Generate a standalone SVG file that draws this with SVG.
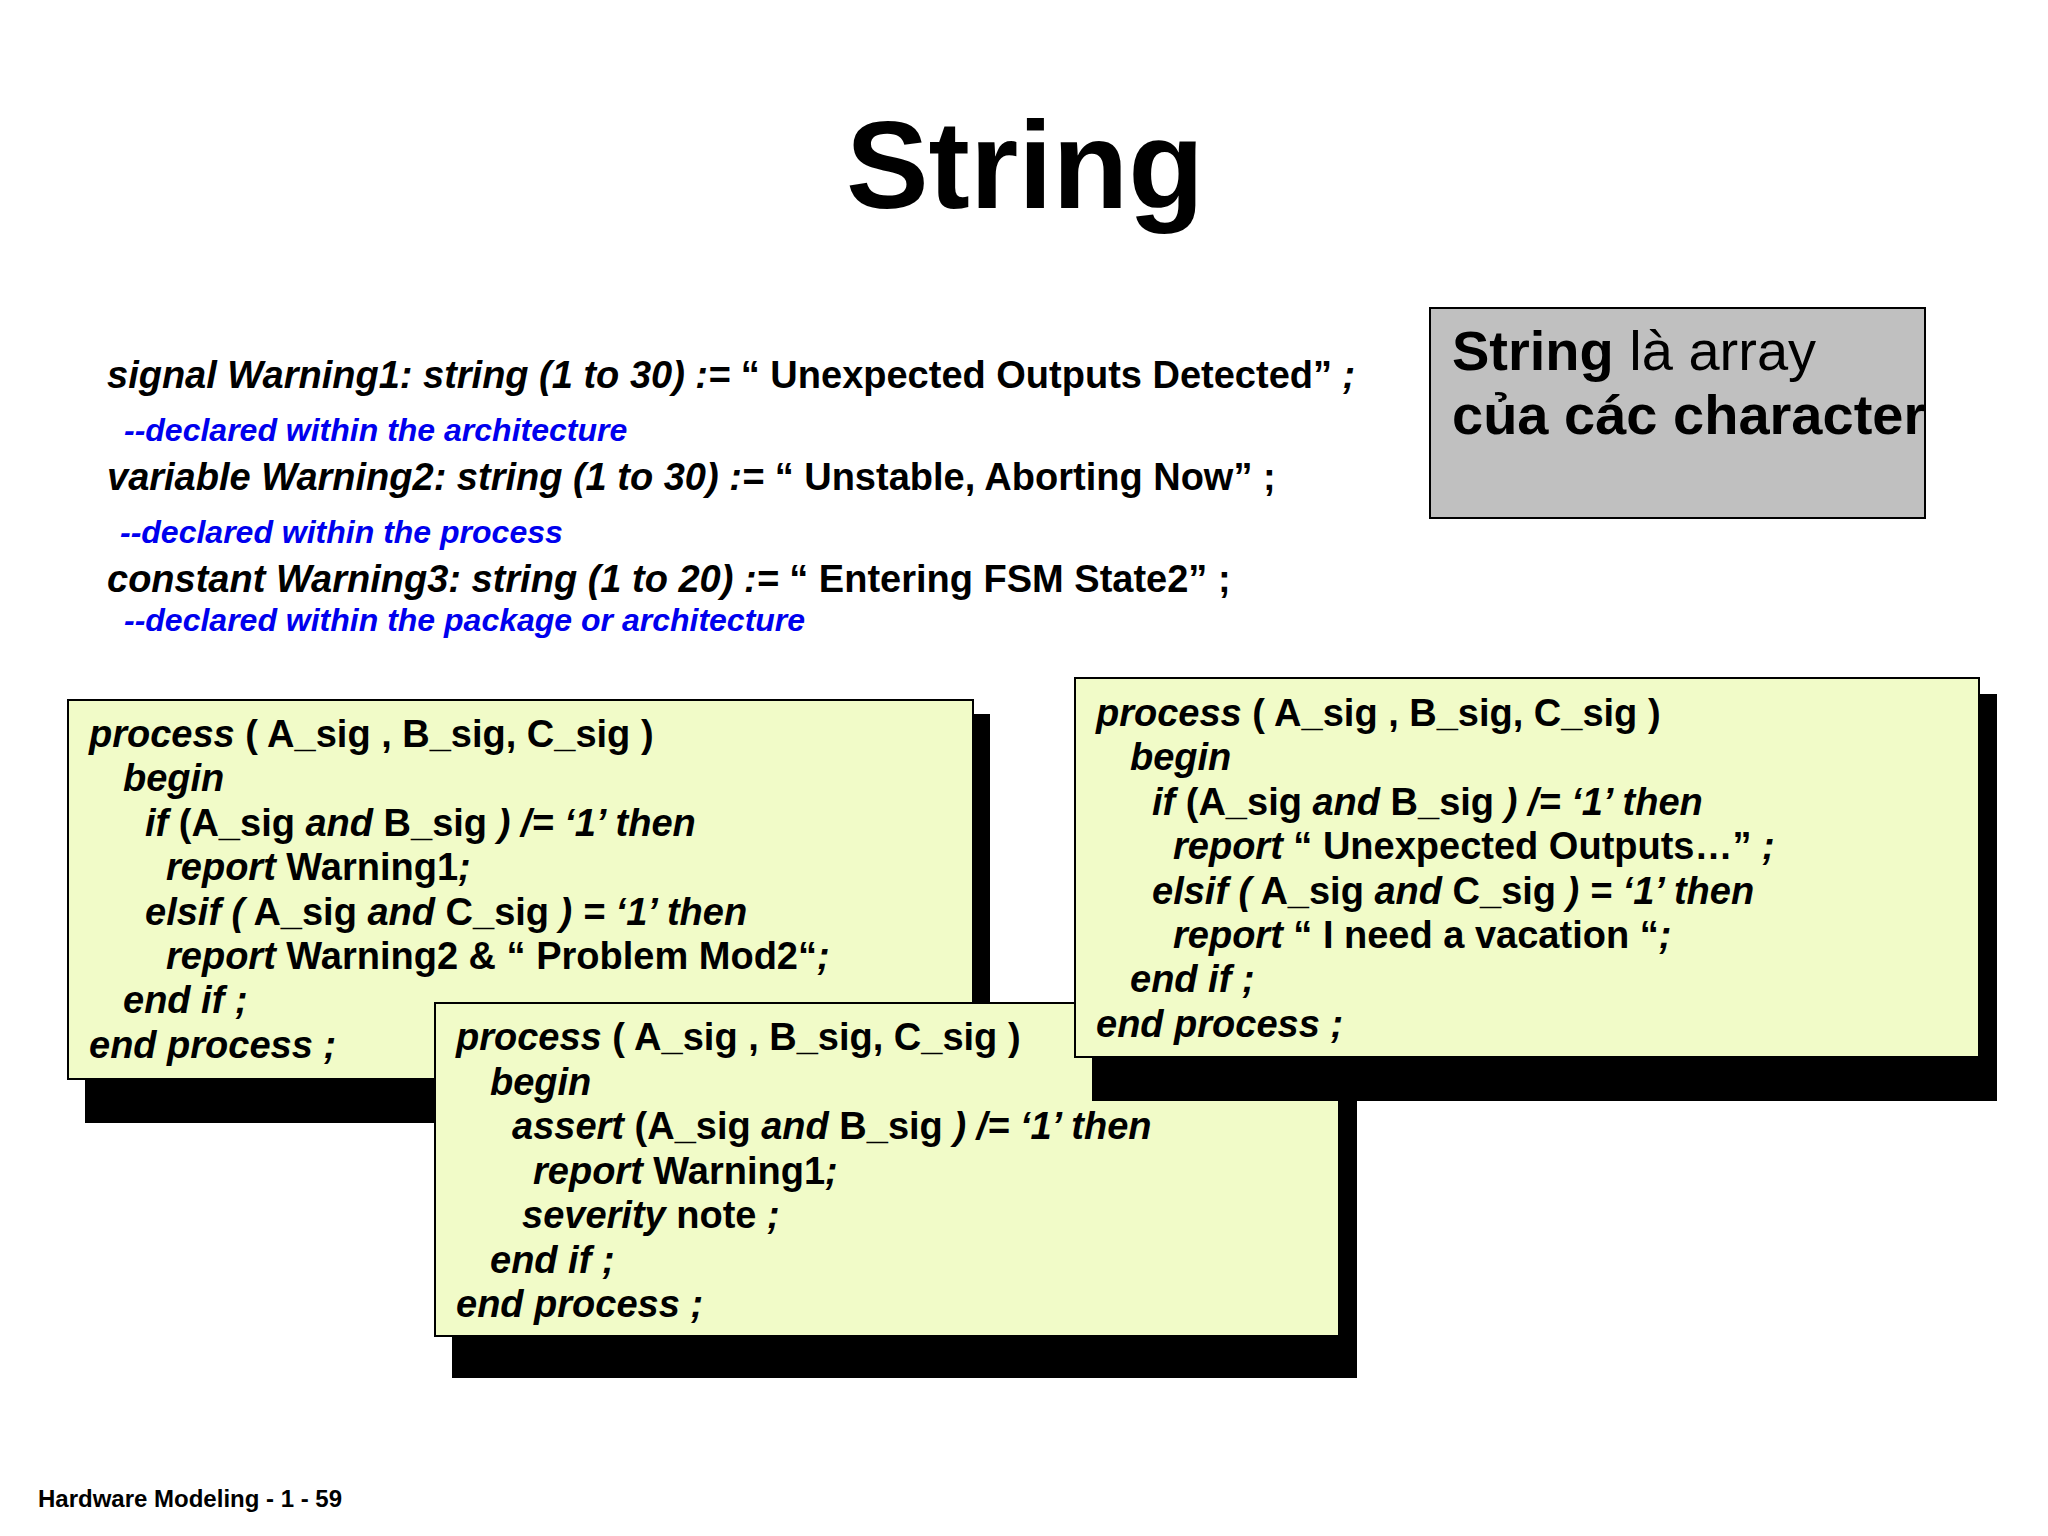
<svg xmlns="http://www.w3.org/2000/svg" width="2048" height="1536" viewBox="0 0 2048 1536">
<style>
text{font-family:"Liberation Sans",Arial,sans-serif;font-weight:bold;fill:#000}
.c{font-size:38px}
.i{font-style:italic}
.cm{font-size:32px;fill:#0000ee;font-style:italic}
.box{fill:#f1fbc8;stroke:#000;stroke-width:2}
.sh{fill:#000}
</style>
<rect width="2048" height="1536" fill="#fff"/>
<text x="1025" y="208" font-size="124" text-anchor="middle">String</text>
<g id="note">
<rect x="1430" y="308" width="495" height="210" fill="#c0c0c0" stroke="#000" stroke-width="2"/>
<text x="1452" y="370" font-size="56">String <tspan font-weight="normal">là array</tspan></text>
<text x="1452" y="434" font-size="56" font-weight="normal">của các character</text>
</g>
<g id="decls">
<text class="c" x="107" y="388"><tspan class="i">signal Warning1: string (1 to 30) := </tspan>“ Unexpected Outputs Detected” <tspan class="i">;</tspan></text>
<text class="cm" x="124" y="441">--declared within the architecture</text>
<text class="c" x="107" y="490"><tspan class="i">variable Warning2: string (1 to 30) := </tspan>“ Unstable, Aborting Now” ;</text>
<text class="cm" x="120" y="543">--declared within the process</text>
<text class="c" x="107" y="592"><tspan class="i">constant Warning3: string (1 to 20) := </tspan>“ Entering FSM  State2” ;</text>
<text class="cm" x="124" y="631" font-style="normal">--declared within the package or architecture</text>
</g>
<g id="box1">
<rect class="sh" x="85" y="714" width="905" height="409"/>
<rect class="box" x="68" y="700" width="905" height="379"/>
<text class="c" x="89" y="747"><tspan class="i">process</tspan>  ( A_sig , B_sig, C_sig )</text>
<text class="c i" x="123" y="791">begin</text>
<text class="c" x="145" y="836"><tspan class="i">if</tspan>  (A_sig <tspan class="i">and</tspan> B_sig <tspan class="i">) /= ‘1’ then</tspan></text>
<text class="c" x="166" y="880"><tspan class="i">report</tspan> Warning1<tspan class="i">;</tspan></text>
<text class="c" x="145" y="925"><tspan class="i">elsif (</tspan> A_sig <tspan class="i">and</tspan> C_sig <tspan class="i">) = ‘1’  then</tspan></text>
<text class="c" x="166" y="969"><tspan class="i">report</tspan>  Warning2 &amp; “ Problem Mod2“<tspan class="i">;</tspan></text>
<text class="c i" x="123" y="1013">end if ;</text>
<text class="c i" x="89" y="1058">end process ;</text>
</g>
<g id="box3">
<rect class="sh" x="452" y="1020" width="905" height="358"/>
<rect class="box" x="435" y="1003" width="904" height="333"/>
<text class="c" x="456" y="1050"><tspan class="i">process</tspan>  ( A_sig , B_sig, C_sig )</text>
<text class="c i" x="490" y="1095">begin</text>
<text class="c" x="512" y="1139"><tspan class="i">assert</tspan>  (A_sig <tspan class="i">and</tspan> B_sig <tspan class="i">) /= ‘1’ then</tspan></text>
<text class="c" x="533" y="1184"><tspan class="i">report</tspan> Warning1<tspan class="i">;</tspan></text>
<text class="c" x="522" y="1228"><tspan class="i">severity</tspan> note <tspan class="i">;</tspan></text>
<text class="c i" x="490" y="1273">end if ;</text>
<text class="c i" x="456" y="1317">end process ;</text>
</g>
<g id="box2">
<rect class="sh" x="1092" y="694" width="905" height="407"/>
<rect class="box" x="1075" y="678" width="904" height="379"/>
<text class="c" x="1096" y="726"><tspan class="i">process</tspan>  ( A_sig , B_sig, C_sig )</text>
<text class="c i" x="1130" y="770">begin</text>
<text class="c" x="1152" y="815"><tspan class="i">if</tspan>  (A_sig <tspan class="i">and</tspan> B_sig <tspan class="i">) /= ‘1’ then</tspan></text>
<text class="c" x="1173" y="859"><tspan class="i">report</tspan> “ Unexpected Outputs…” <tspan class="i">;</tspan></text>
<text class="c" x="1152" y="904"><tspan class="i">elsif (</tspan> A_sig <tspan class="i">and</tspan> C_sig <tspan class="i">) = ‘1’  then</tspan></text>
<text class="c" x="1173" y="948"><tspan class="i">report</tspan>  “ I need a vacation “<tspan class="i">;</tspan></text>
<text class="c i" x="1130" y="992">end if ;</text>
<text class="c i" x="1096" y="1037">end process ;</text>
</g>
<g id="connectors"/>
<text x="38" y="1507" font-size="24">Hardware Modeling  -  1 - 59</text>
</svg>
